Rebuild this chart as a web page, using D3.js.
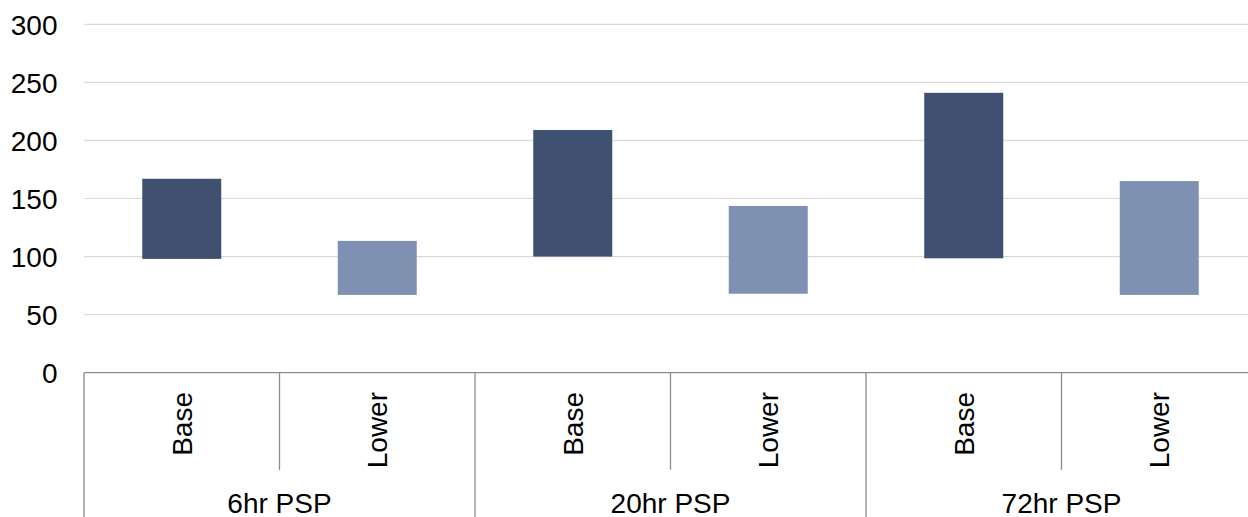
<!DOCTYPE html>
<html><head><meta charset="utf-8">
<script src="https://cdn.jsdelivr.net/npm/d3@7"></script>
<style>html,body{margin:0;padding:0;background:#fff;}svg{display:block;}</style>
</head><body>
<svg id="chart" width="1248" height="517"></svg>
<script>
const groups = ["6hr PSP", "20hr PSP", "72hr PSP"];
const subCategories = ["Base", "Lower"];
const baseLow  = [98, 100, 98.5];
const baseHigh = [167, 209, 241];
const lowerLow  = [67, 68, 67];
const lowerHigh = [113.5, 143.6, 165];
const yTicks = [0, 50, 100, 150, 200, 250, 300];
const colors = {Base: "#3f5071", Lower: "#7f91b3"};

const rows = [];
groups.forEach((g, i) => {
  rows.push({key: g + "|Base", group: g, sub: "Base", lo: baseLow[i], hi: baseHigh[i]});
  rows.push({key: g + "|Lower", group: g, sub: "Lower", lo: lowerLow[i], hi: lowerHigh[i]});
});

const svg = d3.select("#chart");
const font = "'Liberation Sans', Arial, sans-serif";
const fs = 28;
const left = 84, right = 1257, y0 = 372.7, yTop = 24.3;

const x = d3.scaleBand().domain(rows.map(d => d.key)).range([left, right]).padding(0);
const xg = d3.scaleBand().domain(groups).range([left, right]).padding(0);
const y = d3.scaleLinear().domain([0, 300]).range([y0, yTop]);

// gridlines
svg.append("g").selectAll("line").data(yTicks.filter(t => t > 0)).join("line")
  .attr("x1", left).attr("x2", 1248)
  .attr("y1", d => y(d)).attr("y2", d => y(d))
  .attr("stroke", "#d9d9d9").attr("stroke-width", 1.2);

// y labels
const yAxis = d3.axisLeft(y).tickValues(yTicks).tickSize(0).tickPadding(0);
const ya = svg.append("g").attr("transform", `translate(57.5,0)`).call(yAxis);
ya.select(".domain").remove();
ya.selectAll("text").attr("font-family", font).attr("font-size", fs).attr("fill", "#000").attr("dy", "0.35em");

// bars
const bw = x.bandwidth();
svg.append("g").selectAll("rect").data(rows).join("rect")
  .attr("x", d => x(d.key) + bw * 0.298)
  .attr("width", bw * 0.404)
  .attr("y", d => y(d.hi))
  .attr("height", d => y(d.lo) - y(d.hi))
  .attr("fill", d => colors[d.sub]);

// x axis line
svg.append("line").attr("x1", left).attr("x2", 1248).attr("y1", y0).attr("y2", y0)
  .attr("stroke", "#8c8c8c").attr("stroke-width", 1.3);

// inner ticks
svg.append("g").selectAll("line").data(rows.filter(d => d.sub === "Lower")).join("line")
  .attr("x1", d => x(d.key)).attr("x2", d => x(d.key))
  .attr("y1", y0).attr("y2", 470)
  .attr("stroke", "#8c8c8c").attr("stroke-width", 1.3);

// group boundaries
svg.append("g").selectAll("line").data(groups.concat(["end"])).join("line")
  .attr("x1", (d, i) => i < groups.length ? xg(d) : right)
  .attr("x2", (d, i) => i < groups.length ? xg(d) : right)
  .attr("y1", y0).attr("y2", 517)
  .attr("stroke", "#8c8c8c").attr("stroke-width", 1.3);

// sub labels
svg.append("g").selectAll("text").data(rows).join("text")
  .attr("transform", d => `translate(${x(d.key) + bw / 2 + 10},392) rotate(-90)`)
  .attr("text-anchor", "end")
  .attr("font-family", font).attr("font-size", fs).attr("fill", "#000")
  .text(d => d.sub);

// group labels
svg.append("g").selectAll("text").data(groups).join("text")
  .attr("x", d => xg(d) + xg.bandwidth() / 2)
  .attr("y", 513)
  .attr("text-anchor", "middle")
  .attr("font-family", font).attr("font-size", fs).attr("fill", "#000")
  .text(d => d);
</script>
</body></html>
